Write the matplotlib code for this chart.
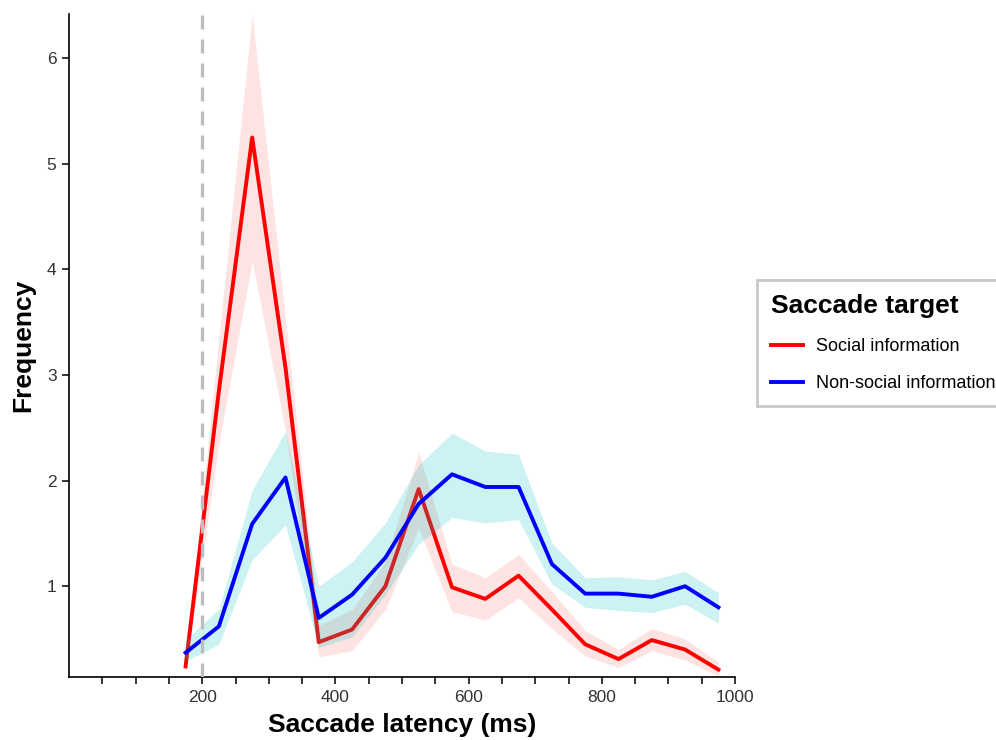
import numpy as np
import matplotlib.pyplot as plt

plt.rcParams['font.family'] = ['Liberation Sans', 'DejaVu Sans']

# bin centres of saccade latency (ms)
latency = [175, 225, 275, 325, 375, 425, 475, 525, 575, 625, 675, 725, 775, 825, 875, 925, 975]

# social information: mean and ribbon bounds
social = [0.24, 2.85, 5.25, 3.07, 0.47, 0.59, 1.0, 1.92, 0.99, 0.88, 1.1, 0.78, 0.45, 0.31, 0.49, 0.4, 0.21]
social_lo = [0.2, 2.35, 4.08, 2.47, 0.33, 0.39, 0.78, 1.55, 0.76, 0.68, 0.89, 0.6, 0.34, 0.23, 0.39, 0.3, 0.15]
social_hi = [0.28, 3.35, 6.41, 3.53, 0.63, 0.78, 1.23, 2.27, 1.21, 1.08, 1.3, 0.95, 0.58, 0.4, 0.6, 0.5, 0.28]

# non-social information: mean and ribbon bounds
nonsocial = [0.37, 0.62, 1.59, 2.03, 0.7, 0.92, 1.27, 1.78, 2.06, 1.94, 1.94, 1.21, 0.93, 0.93, 0.9, 1.0, 0.8]
nonsocial_lo = [0.29, 0.45, 1.25, 1.58, 0.42, 0.52, 0.92, 1.4, 1.65, 1.6, 1.63, 1.02, 0.8, 0.77, 0.75, 0.83, 0.65]
nonsocial_hi = [0.5, 0.78, 1.91, 2.47, 1.0, 1.23, 1.6, 2.15, 2.45, 2.28, 2.25, 1.41, 1.08, 1.09, 1.06, 1.14, 0.94]

fig = plt.figure(figsize=(9.96, 7.4), dpi=100)
ax = fig.add_axes([0.0693, 0.0851, 0.6687, 0.896])

# each group's ribbon then line, so the blue ribbon tints the red line
ax.fill_between(latency, social_lo, social_hi, color='#F8766D', alpha=0.2, linewidth=0, zorder=1)
ax.plot(latency, social, color='#FF0000', linewidth=2.8, label='Social information', zorder=2)
ax.fill_between(latency, nonsocial_lo, nonsocial_hi, color='#00BFC4', alpha=0.2, linewidth=0, zorder=3)
ax.plot(latency, nonsocial, color='#0000FF', linewidth=2.8, label='Non-social information', zorder=4)

# 200 ms reference line
ax.axvline(200, color='#BEBEBE', linewidth=2.4, linestyle=(0, (4.2, 3)), zorder=5)

ax.set_xlim(0, 1000)
ax.set_ylim(0.14, 6.42)
ax.set_xticks(np.arange(50, 1001, 50))
ax.set_xticklabels([str(t) if t % 200 == 0 else '' for t in range(50, 1001, 50)])
ax.set_yticks([1, 2, 3, 4, 5, 6])

for side in ['top', 'right']:
    ax.spines[side].set_visible(False)
for side in ['left', 'bottom']:
    ax.spines[side].set_linewidth(1.2)
ax.tick_params(direction='out', length=5, width=1.1, labelsize=12.5, labelcolor='#333333', pad=4)

ax.set_xlabel('Saccade latency (ms)', fontsize=19, fontweight='bold', labelpad=6)
ax.set_ylabel('Frequency', fontsize=19, fontweight='bold', labelpad=8)

leg = fig.legend(loc='center left', bbox_to_anchor=(757 / 996, 1 - 343 / 740),
                 title='Saccade target', fontsize=13, frameon=True, fancybox=False,
                 handlelength=1.75, handletextpad=0.7, labelspacing=1.1, borderpad=0.8,
                 borderaxespad=0)
leg.get_title().set_fontsize(19)
leg.get_title().set_fontweight('bold')
leg._legend_box.align = 'left'
leg.get_frame().set_edgecolor('#BBBBBB')
leg.get_frame().set_linewidth(2)

plt.savefig('out.png', dpi=100)
